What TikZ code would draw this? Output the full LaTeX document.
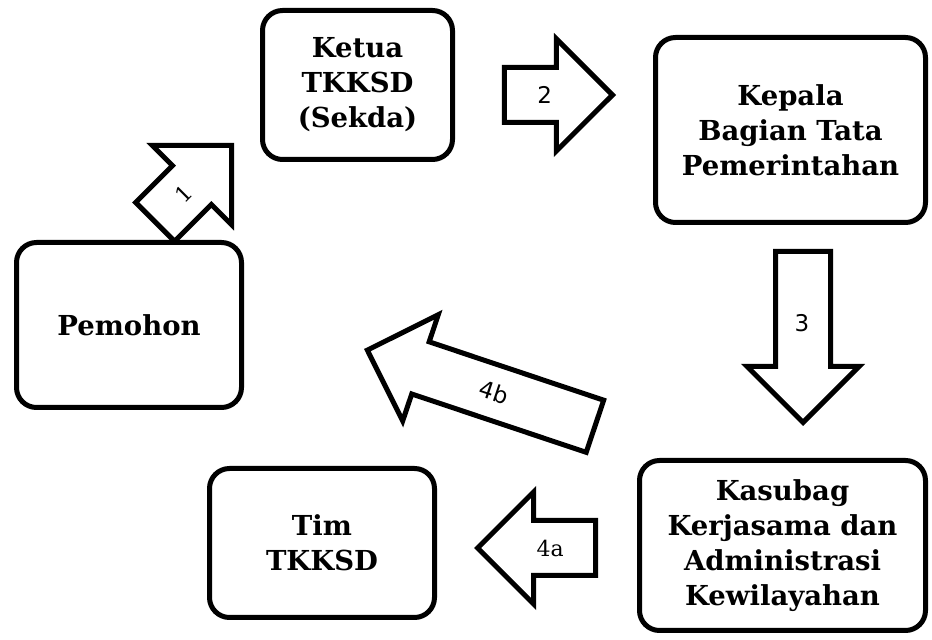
\documentclass[tikz,border=0pt]{standalone}
\usepackage{fontspec}
\usepackage{graphicx}
\setmainfont{DejaVu Serif}
\newfontfamily\angka{DejaVu Sans}
\usetikzlibrary{shapes.arrows}

\begin{document}
\begin{tikzpicture}[x=1pt, y=1pt,
  kotak/.style={draw=black, line width=5pt, rounded corners=20pt, align=center,
    font=\bfseries\fontsize{27.5}{35}\selectfont},
  panah/.style={draw=black, line width=5pt, single arrow, minimum height=#1,
    minimum width=107pt, single arrow head extend=28.5pt, inner ysep=16.5pt,
    text height=17pt, text depth=0pt, anchor=tip,
    font=\angka\fontsize{23}{24}\selectfont},
  balik/.style={text height=0pt, text depth=17pt}]
\useasboundingbox (0,0) rectangle (932,640);
% kotak
\node [kotak, minimum width=225pt, minimum height=165pt] (pemohon) at (129,315) {Pemohon};
\node [kotak, minimum width=190pt, minimum height=149pt] (ketua) at (357.5,555) {Ketua\\TKKSD\\(Sekda)};
\node [kotak, minimum width=270pt, minimum height=185pt] (kepala) at (790.5,510) {Kepala\\Bagian Tata\\Pemerintahan};
\node [kotak, minimum width=286pt, minimum height=170pt] (kasubag) at (782.5,94.5) {Kasubag\\Kerjasama dan\\Administrasi\\Kewilayahan};
\node [kotak, minimum width=225pt, minimum height=149pt] (tim) at (322,97) {Tim\\TKKSD};
% panah
\node [panah=108pt, rotate=45, inner xsep=4pt, font=\fontsize{22}{24}\selectfont] (panah1) at (234,497) {1};
\node [panah=108pt, inner xsep=8pt] (panah2) at (616,545) {2};
\node [panah=171pt, rotate=-90, inner xsep=54pt] (panah3) at (803,214) {\rotatebox{90}{3}};
\node [panah=118pt, rotate=180, balik, inner xsep=3pt, font=\fontsize{22}{24}\selectfont] (panah4a) at (474,92) {\rotatebox{180}{4a}};
\node [panah=240pt, rotate=161.5, balik, inner xsep=68pt] (panah4b) at (364,291) {\rotatebox{180}{4b}};
\end{tikzpicture}
\end{document}
